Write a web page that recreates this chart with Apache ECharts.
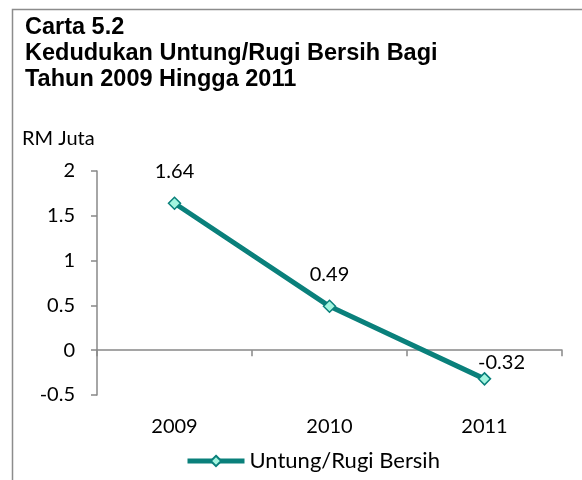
<!DOCTYPE html>
<html><head><meta charset="utf-8">
<script src="https://cdn.jsdelivr.net/npm/echarts@6/dist/echarts.min.js"></script>
<style>html,body{margin:0;padding:0;background:#fff}#c{width:582px;height:480px}</style>
</head><body><div id="c"></div>
<script>
const categories = ['2009', '2010', '2011'];
const values = [1.64, 0.49, -0.32];
const seriesName = 'Untung/Rugi Bersih';
const titleLines = ['Carta 5.2', 'Kedudukan Untung/Rugi Bersih Bagi', 'Tahun 2009 Hingga 2011'];
const yMin = -0.5, yMax = 2, yStep = 0.5;

const chart = echarts.init(document.getElementById('c'));
const lab = "Lato, 'Open Sans', sans-serif";
const axisGray = '#888888';
const teal = '#0A807B';

chart.setOption({
  animation: false,
  title: {
    text: titleLines.join('\n'),
    left: 25, top: 15, padding: 0,
    textStyle: { fontFamily: "'Liberation Sans', Arial, sans-serif", fontWeight: 'bold', fontSize: 23.5, lineHeight: 26, color: '#000' }
  },
  graphic: [{
    type: 'rect', shape: { x: 12.5, y: 9.5, width: 700, height: 600 },
    style: { fill: 'none', stroke: '#8c8c8c', lineWidth: 1.5 }, silent: true, z: -1
  }, {
    type: 'text', left: 22, top: 129,
    style: { text: 'RM Juta', font: "20px Lato, 'Open Sans', sans-serif", fill: '#000' }
  }],
  legend: {
    bottom: 3, left: 180,
    itemWidth: 57, itemHeight: 13, itemGap: 4,
    lineStyle: { width: 5 },
    textStyle: { fontFamily: lab, fontSize: 22, color: '#000' },
    data: [seriesName]
  },
  grid: { left: 97, right: 20, top: 171, bottom: 85 },
  xAxis: [{
    type: 'category', data: categories, boundaryGap: true,
    axisLine: { onZero: true, lineStyle: { color: axisGray, width: 1.5 } },
    axisTick: { show: true, length: 6, alignWithLabel: false, lineStyle: { color: axisGray, width: 1.5 } },
    axisLabel: { show: false }, splitLine: { show: false }
  }, {
    type: 'category', data: categories, boundaryGap: true, position: 'bottom',
    axisLine: { show: false, onZero: false }, axisTick: { show: false },
    axisLabel: { show: true, margin: 22, fontFamily: lab, fontSize: 20, color: '#000' },
    splitLine: { show: false }
  }],
  yAxis: {
    type: 'value', min: yMin, max: yMax, interval: yStep,
    axisLine: { show: true, lineStyle: { color: axisGray, width: 1.5 } },
    axisTick: { show: true, length: 6, lineStyle: { color: axisGray, width: 1.5 } },
    axisLabel: { margin: 22, fontFamily: lab, fontSize: 20, color: '#000' },
    splitLine: { show: false }
  },
  series: [{
    name: seriesName, type: 'line', xAxisIndex: 0,
    data: values.map((v, i) => i === values.length - 1
      ? { value: v, label: { offset: [17, 15] } }
      : { value: v }),
    symbol: 'diamond', symbolSize: 12,
    lineStyle: { color: teal, width: 5 },
    itemStyle: { color: '#A3F5DF', borderColor: teal, borderWidth: 1.5 },
    label: { show: true, position: 'top', distance: 15, fontFamily: lab, fontSize: 20, color: '#000' }
  }]
});
</script></body></html>
